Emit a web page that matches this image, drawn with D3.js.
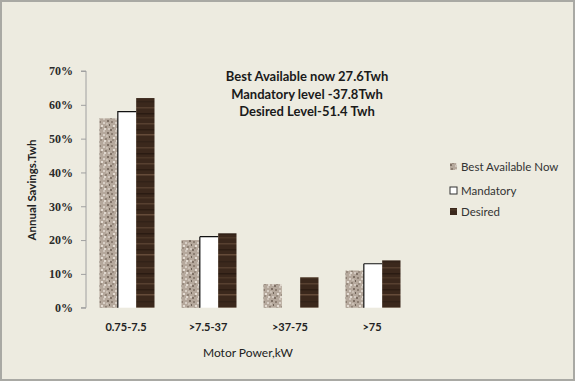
<!DOCTYPE html>
<html><head><meta charset="utf-8">
<script src="https://cdn.jsdelivr.net/npm/d3@7"></script>
<style>html,body{margin:0;padding:0;background:#fff;}svg{display:block;}</style>
</head><body>
<script>
const categories = ["0.75-7.5", ">7.5-37", ">37-75", ">75"];
const seriesNames = ["Best Available Now", "Mandatory", "Desired"];
const bestAvailable = [56, 20, 7, 11];
const mandatory = [58, 21, 0, 13];
const desired = [62, 22, 9, 14];
const yTicks = [0, 10, 20, 30, 40, 50, 60, 70];
const annotation = ["Best Available now 27.6Twh", "Mandatory level -37.8Twh", "Desired Level-51.4 Twh"];
const xTitle = "Motor Power,kW";
const yTitle = "Annual Savings.Twh";

const W = 576, H = 386;
const svg = d3.select("body").append("svg").attr("width", W).attr("height", H);
const defs = svg.append("defs");

// granite texture
const g1 = defs.append("pattern").attr("id", "granite").attr("patternUnits", "userSpaceOnUse")
  .attr("width", 12).attr("height", 12);
g1.append("rect").attr("width", 12).attr("height", 12).attr("fill", "#b5a89c");
const speck = [[1,1,"#8c7e72"],[5,2,"#d8cfc6"],[9,0,"#7d6f64"],[3,5,"#e3dbd2"],[7,6,"#8f8276"],[10,8,"#d2c8bf"],[0,9,"#7f7166"],[5,10,"#cfc5bb"],[2,7,"#9a8d81"],[8,3,"#c9beb3"],[11,4,"#6f6358"],[6,8,"#e0d8cf"]];
speck.forEach(s => g1.append("rect").attr("x", s[0]).attr("y", s[1]).attr("width", 2).attr("height", 2).attr("fill", s[2]));

// wood texture
const g2 = defs.append("pattern").attr("id", "wood").attr("patternUnits", "userSpaceOnUse")
  .attr("width", 20).attr("height", 40);
g2.append("rect").attr("width", 20).attr("height", 40).attr("fill", "#3b281c");
[[3,"#574030"],[9,"#2d1d13"],[14,"#654b39"],[21,"#322218"],[27,"#553e2e"],[33,"#2a1b12"],[37,"#4b3626"]].forEach(s =>
  g2.append("rect").attr("x", 0).attr("y", s[0]).attr("width", 20).attr("height", 1.5).attr("fill", s[1]));

// background frame
svg.append("rect").attr("x", 1).attr("y", 1).attr("width", 573).attr("height", 379)
  .attr("fill", "#edebe0").attr("stroke", "#a9a9a4").attr("stroke-width", 2);

const y = d3.scaleLinear().domain([0, 70]).range([307.7, 71]);
const x0 = d3.scaleBand().domain(categories).range([86, 414]);
const x1 = d3.scaleBand().domain(seriesNames).range([13.5, 68.5]);

// y axis
const yAxis = d3.axisLeft(y).tickValues(yTicks).tickSize(5).tickPadding(8).tickFormat(d => d + "%");
const ya = svg.append("g").attr("transform", "translate(86,0)").call(yAxis);
ya.select(".domain").attr("stroke", "#a0a0a0").attr("d", "M-5," + y(70) + "H0V" + y(0) + "H-5");
ya.selectAll(".tick line").attr("stroke", "#a0a0a0");
ya.selectAll(".tick text").attr("font-family", "Liberation Serif").attr("font-weight", "bold")
  .attr("font-size", 12).attr("fill", "#2a2a2a");

// bars
const fills = {"Best Available Now": "url(#granite)", "Mandatory": "#ffffff", "Desired": "url(#wood)"};
const data = categories.map((c, i) => ({cat: c, vals: [
  {s: seriesNames[0], v: bestAvailable[i]},
  {s: seriesNames[1], v: mandatory[i]},
  {s: seriesNames[2], v: desired[i]}].filter(d => d.v > 0)}));
const grp = svg.append("g").selectAll("g").data(data).join("g")
  .attr("transform", d => `translate(${x0(d.cat)},0)`);
const bw = x1.bandwidth();
grp.selectAll("rect").data(d => d.vals).join("rect")
  .attr("x", d => x1(d.s)).attr("y", d => y(d.v))
  .attr("width", bw).attr("height", d => y(0) - y(d.v))
  .attr("fill", d => fills[d.s])
  .attr("stroke", d => d.s === "Mandatory" ? "#111" : "none")
  .attr("stroke-width", 1.2)
  .attr("stroke-dasharray", d => {
    const h = y(0) - y(d.v);
    return `${bw},${h + bw},${h}`;
  });

// category labels
svg.append("g").selectAll("text").data(categories).join("text")
  .attr("x", d => x0(d) + x0.bandwidth() / 2 - 1).attr("y", 331)
  .attr("text-anchor", "middle").attr("font-family", "Lato").attr("font-weight", "bold")
  .attr("font-size", 11).attr("fill", "#222").text(d => d);

svg.append("text").attr("x", 248).attr("y", 357).attr("text-anchor", "middle")
  .attr("font-family", "Lato").attr("font-size", 12).attr("fill", "#222").text(xTitle);

svg.append("text").attr("transform", "translate(36,190) rotate(-90)").attr("text-anchor", "middle")
  .attr("font-family", "Lato").attr("font-weight", "bold").attr("font-size", 11.5).attr("fill", "#222").text(yTitle);

// annotation
svg.append("g").selectAll("text").data(annotation).join("text")
  .attr("x", 307).attr("y", (d, i) => 81 + i * 17.5).attr("text-anchor", "middle")
  .attr("font-family", "Lato").attr("font-weight", "bold").attr("font-size", 13).attr("fill", "#1a1a1a")
  .text(d => d);

// legend
const leg = svg.append("g").selectAll("g").data(seriesNames).join("g")
  .attr("transform", (d, i) => `translate(450,${167 + [0, 24, 45][i]})`);
leg.append("rect").attr("x", 0).attr("y", -4).attr("width", 7).attr("height", 7)
  .attr("fill", d => fills[d]).attr("stroke", d => d === "Mandatory" ? "#333" : "none");
leg.append("text").attr("x", 11).attr("y", 4).attr("font-family", "Lato").attr("font-size", 11.5)
  .attr("fill", "#333").text(d => d);
</script>
</body></html>
